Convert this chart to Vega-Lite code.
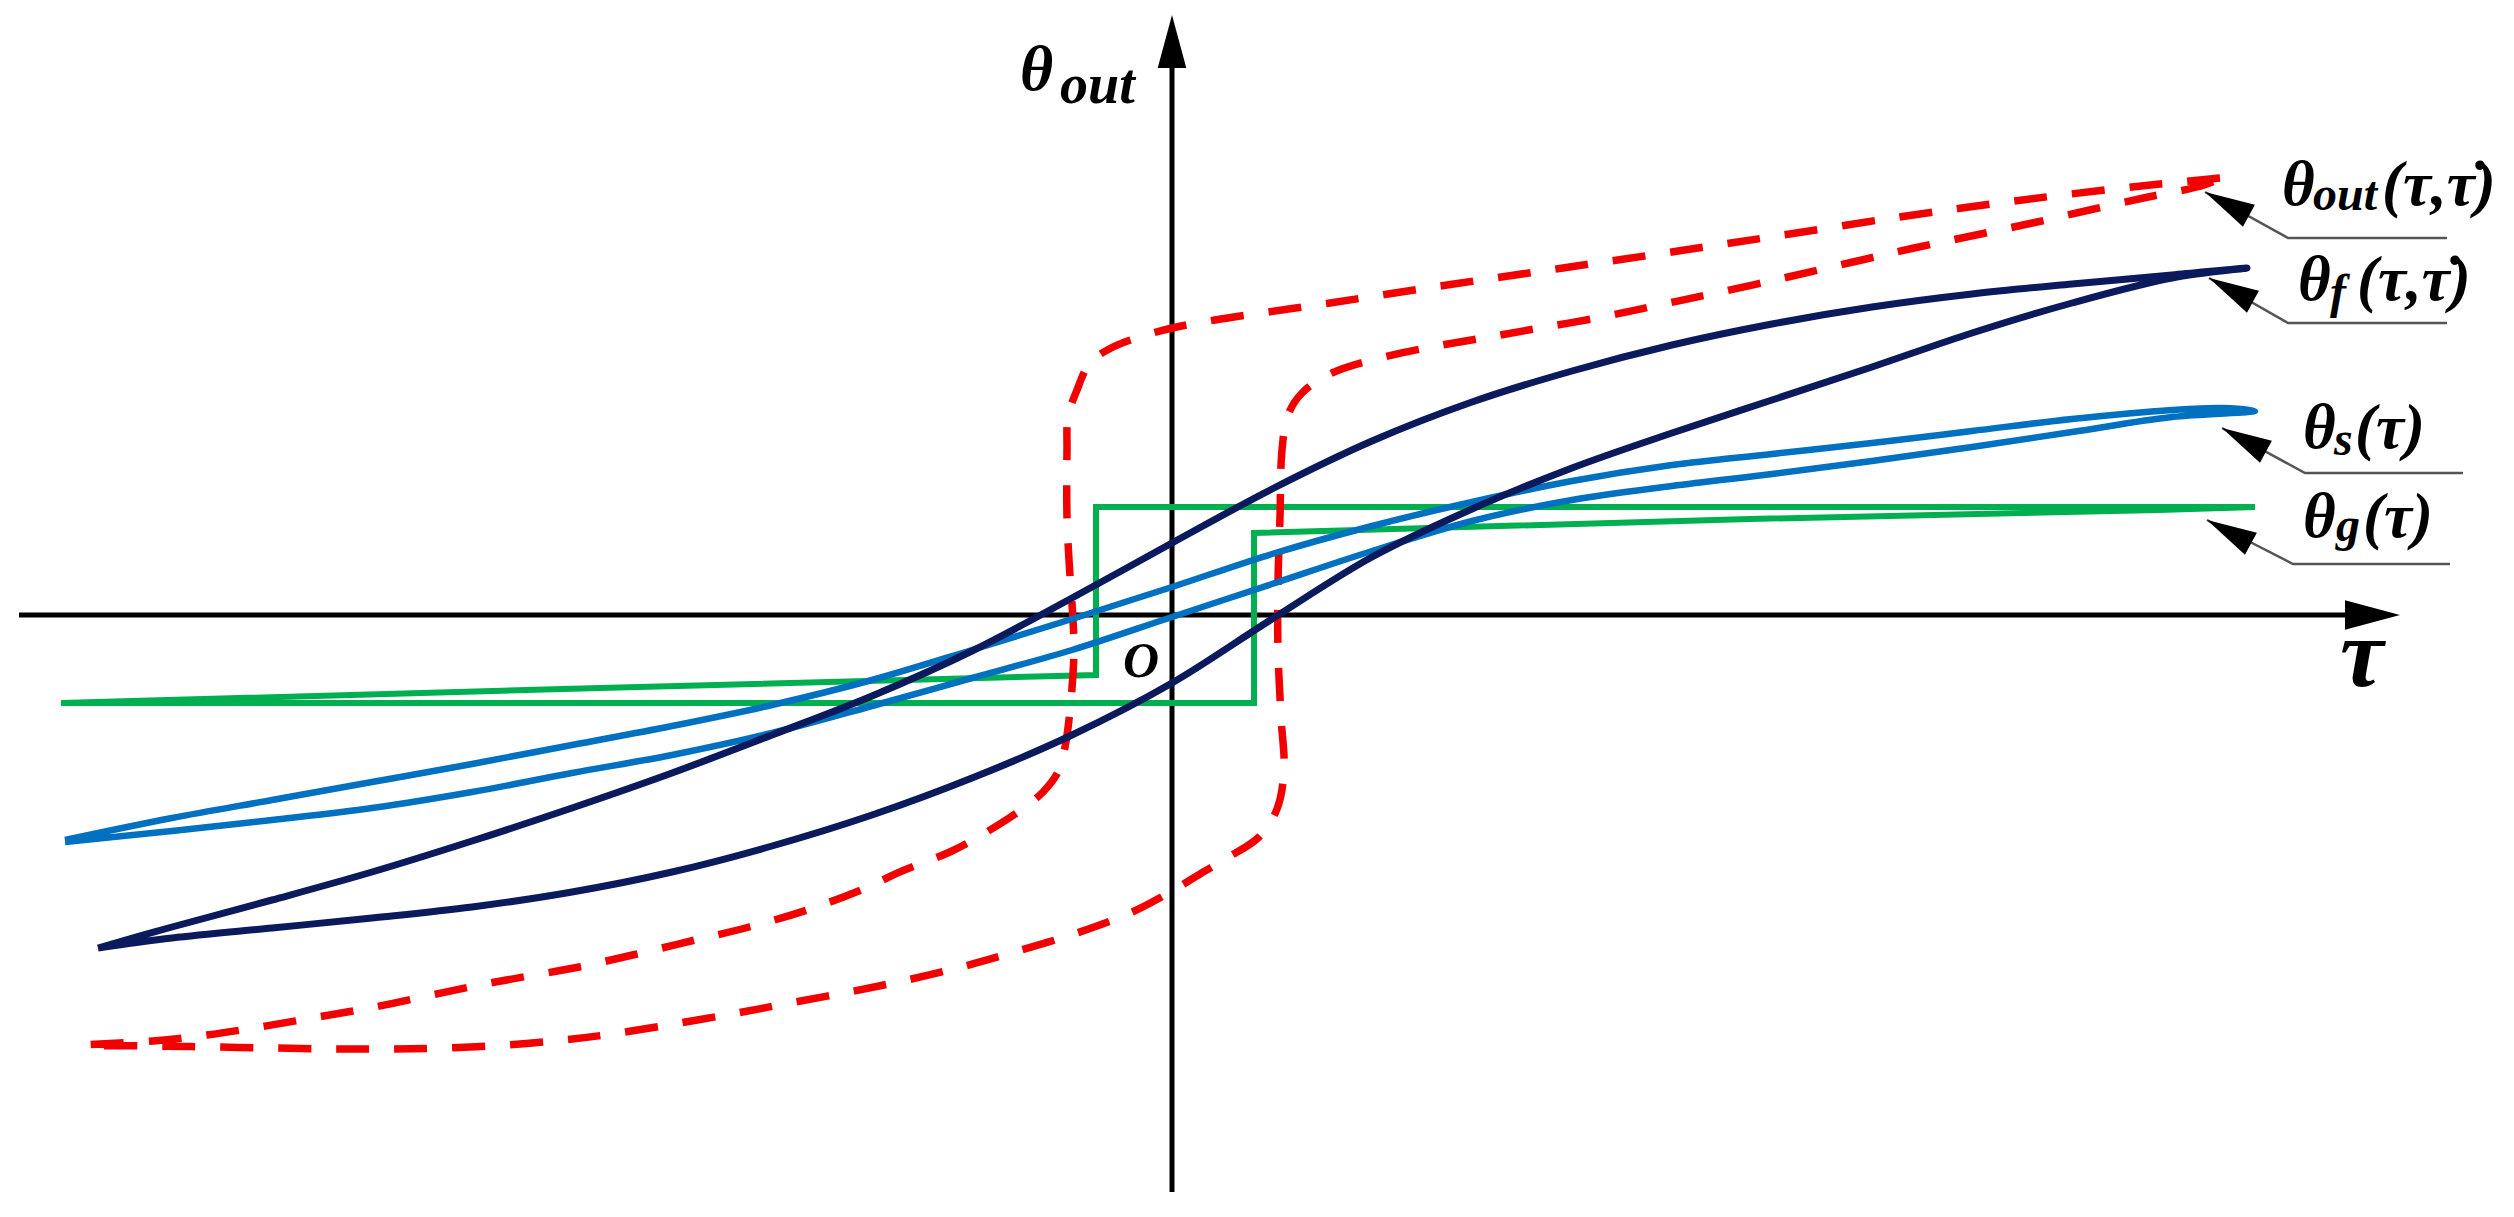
{
  "$schema": "https://vega.github.io/schema/vega-lite/v6.json",
  "width": 2514,
  "height": 1217,
  "autosize": {"type": "fit", "contains": "padding"},
  "padding": 0,
  "background": "white",
  "config": {"view": {"stroke": null}},
  "datasets": {
    "axes": [
      {"axis": "tau", "order": 1, "tau": -1153, "theta": 0},
      {"axis": "tau", "order": 2, "tau": 1180, "theta": 0},
      {"axis": "theta", "order": 1, "tau": 0, "theta": -577},
      {"axis": "theta", "order": 2, "tau": 0, "theta": 552}
    ],
    "axisTips": [
      {"axis": "tau", "tau": 1228, "theta": 0},
      {"axis": "theta", "tau": 0, "theta": 600}
    ],
    "curves": [
      {"series": "theta_g", "order": 1, "tau": -1111, "theta": -88},
      {"series": "theta_g", "order": 2, "tau": -572, "theta": -73},
      {"series": "theta_g", "order": 3, "tau": -76, "theta": -60},
      {"series": "theta_g", "order": 4, "tau": -76, "theta": 108},
      {"series": "theta_g", "order": 5, "tau": 1083, "theta": 108},
      {"series": "theta_g", "order": 6, "tau": 987, "theta": 105},
      {"series": "theta_g", "order": 7, "tau": 578, "theta": 96},
      {"series": "theta_g", "order": 8, "tau": 82, "theta": 82},
      {"series": "theta_g", "order": 9, "tau": 82, "theta": -88},
      {"series": "theta_g", "order": 10, "tau": -1111, "theta": -88},

      {"series": "theta_out", "order": 1, "tau": 1048, "theta": 437},
      {"series": "theta_out", "order": 2, "tau": 960, "theta": 428},
      {"series": "theta_out", "order": 3, "tau": 842, "theta": 414},
      {"series": "theta_out", "order": 4, "tau": 727, "theta": 398},
      {"series": "theta_out", "order": 5, "tau": 605, "theta": 379},
      {"series": "theta_out", "order": 6, "tau": 506, "theta": 364},
      {"series": "theta_out", "order": 7, "tau": 391, "theta": 347},
      {"series": "theta_out", "order": 8, "tau": 275, "theta": 330},
      {"series": "theta_out", "order": 9, "tau": 158, "theta": 312},
      {"series": "theta_out", "order": 10, "tau": 43, "theta": 295},
      {"series": "theta_out", "order": 11, "tau": 0, "theta": 287},
      {"series": "theta_out", "order": 12, "tau": -29, "theta": 279},
      {"series": "theta_out", "order": 13, "tau": -59, "theta": 268},
      {"series": "theta_out", "order": 14, "tau": -82, "theta": 252},
      {"series": "theta_out", "order": 15, "tau": -95, "theta": 225},
      {"series": "theta_out", "order": 16, "tau": -104, "theta": 198},
      {"series": "theta_out", "order": 17, "tau": -105, "theta": 165},
      {"series": "theta_out", "order": 18, "tau": -105, "theta": 98},
      {"series": "theta_out", "order": 19, "tau": -103, "theta": 55},
      {"series": "theta_out", "order": 20, "tau": -99, "theta": -5},
      {"series": "theta_out", "order": 21, "tau": -98, "theta": -35},
      {"series": "theta_out", "order": 22, "tau": -101, "theta": -85},
      {"series": "theta_out", "order": 23, "tau": -107, "theta": -132},
      {"series": "theta_out", "order": 24, "tau": -114, "theta": -157},
      {"series": "theta_out", "order": 25, "tau": -129, "theta": -177},
      {"series": "theta_out", "order": 26, "tau": -154, "theta": -197},
      {"series": "theta_out", "order": 27, "tau": -187, "theta": -218},
      {"series": "theta_out", "order": 28, "tau": -220, "theta": -236},
      {"series": "theta_out", "order": 29, "tau": -270, "theta": -256},
      {"series": "theta_out", "order": 30, "tau": -311, "theta": -275},
      {"series": "theta_out", "order": 31, "tau": -365, "theta": -295},
      {"series": "theta_out", "order": 32, "tau": -423, "theta": -312},
      {"series": "theta_out", "order": 33, "tau": -477, "theta": -325},
      {"series": "theta_out", "order": 34, "tau": -531, "theta": -338},
      {"series": "theta_out", "order": 35, "tau": -593, "theta": -352},
      {"series": "theta_out", "order": 36, "tau": -682, "theta": -368},
      {"series": "theta_out", "order": 37, "tau": -740, "theta": -380},
      {"series": "theta_out", "order": 38, "tau": -797, "theta": -392},
      {"series": "theta_out", "order": 39, "tau": -854, "theta": -402},
      {"series": "theta_out", "order": 40, "tau": -912, "theta": -412},
      {"series": "theta_out", "order": 41, "tau": -965, "theta": -420},
      {"series": "theta_out", "order": 42, "tau": -1019, "theta": -426},
      {"series": "theta_out", "order": 43, "tau": -1087, "theta": -430},
      {"series": "theta_out", "order": 44, "tau": -1019, "theta": -431},
      {"series": "theta_out", "order": 45, "tau": -958, "theta": -432},
      {"series": "theta_out", "order": 46, "tau": -896, "theta": -433},
      {"series": "theta_out", "order": 47, "tau": -839, "theta": -434},
      {"series": "theta_out", "order": 48, "tau": -785, "theta": -434},
      {"series": "theta_out", "order": 49, "tau": -728, "theta": -433},
      {"series": "theta_out", "order": 50, "tau": -667, "theta": -430},
      {"series": "theta_out", "order": 51, "tau": -609, "theta": -425},
      {"series": "theta_out", "order": 52, "tau": -560, "theta": -419},
      {"series": "theta_out", "order": 53, "tau": -498, "theta": -409},
      {"series": "theta_out", "order": 54, "tau": -435, "theta": -398},
      {"series": "theta_out", "order": 55, "tau": -382, "theta": -388},
      {"series": "theta_out", "order": 56, "tau": -323, "theta": -377},
      {"series": "theta_out", "order": 57, "tau": -265, "theta": -365},
      {"series": "theta_out", "order": 58, "tau": -207, "theta": -351},
      {"series": "theta_out", "order": 59, "tau": -154, "theta": -336},
      {"series": "theta_out", "order": 60, "tau": -95, "theta": -318},
      {"series": "theta_out", "order": 61, "tau": -42, "theta": -298},
      {"series": "theta_out", "order": 62, "tau": 0, "theta": -276},
      {"series": "theta_out", "order": 63, "tau": 28, "theta": -259},
      {"series": "theta_out", "order": 64, "tau": 55, "theta": -243},
      {"series": "theta_out", "order": 65, "tau": 87, "theta": -222},
      {"series": "theta_out", "order": 66, "tau": 105, "theta": -194},
      {"series": "theta_out", "order": 67, "tau": 112, "theta": -155},
      {"series": "theta_out", "order": 68, "tau": 109, "theta": -102},
      {"series": "theta_out", "order": 69, "tau": 106, "theta": -35},
      {"series": "theta_out", "order": 70, "tau": 106, "theta": 32},
      {"series": "theta_out", "order": 71, "tau": 108, "theta": 98},
      {"series": "theta_out", "order": 72, "tau": 110, "theta": 165},
      {"series": "theta_out", "order": 73, "tau": 116, "theta": 200},
      {"series": "theta_out", "order": 74, "tau": 130, "theta": 222},
      {"series": "theta_out", "order": 75, "tau": 158, "theta": 241},
      {"series": "theta_out", "order": 76, "tau": 196, "theta": 254},
      {"series": "theta_out", "order": 77, "tau": 254, "theta": 267},
      {"series": "theta_out", "order": 78, "tau": 311, "theta": 277},
      {"series": "theta_out", "order": 79, "tau": 368, "theta": 287},
      {"series": "theta_out", "order": 80, "tau": 430, "theta": 298},
      {"series": "theta_out", "order": 81, "tau": 487, "theta": 310},
      {"series": "theta_out", "order": 82, "tau": 544, "theta": 322},
      {"series": "theta_out", "order": 83, "tau": 616, "theta": 338},
      {"series": "theta_out", "order": 84, "tau": 681, "theta": 353},
      {"series": "theta_out", "order": 85, "tau": 742, "theta": 367},
      {"series": "theta_out", "order": 86, "tau": 804, "theta": 380},
      {"series": "theta_out", "order": 87, "tau": 865, "theta": 393},
      {"series": "theta_out", "order": 88, "tau": 922, "theta": 406},
      {"series": "theta_out", "order": 89, "tau": 976, "theta": 418},
      {"series": "theta_out", "order": 90, "tau": 1025, "theta": 428},
      {"series": "theta_out", "order": 91, "tau": 1048, "theta": 436},

      {"series": "theta_s", "order": 1, "tau": -1107, "theta": -225},
      {"series": "theta_s", "order": 2, "tau": -1000, "theta": -203},
      {"series": "theta_s", "order": 3, "tau": -900, "theta": -185},
      {"series": "theta_s", "order": 4, "tau": -800, "theta": -167},
      {"series": "theta_s", "order": 5, "tau": -700, "theta": -149},
      {"series": "theta_s", "order": 6, "tau": -600, "theta": -130},
      {"series": "theta_s", "order": 7, "tau": -500, "theta": -111},
      {"series": "theta_s", "order": 8, "tau": -400, "theta": -90},
      {"series": "theta_s", "order": 9, "tau": -300, "theta": -65},
      {"series": "theta_s", "order": 10, "tau": -200, "theta": -35},
      {"series": "theta_s", "order": 11, "tau": -100, "theta": -4},
      {"series": "theta_s", "order": 12, "tau": 0, "theta": 28},
      {"series": "theta_s", "order": 13, "tau": 100, "theta": 61},
      {"series": "theta_s", "order": 14, "tau": 200, "theta": 89},
      {"series": "theta_s", "order": 15, "tau": 300, "theta": 113},
      {"series": "theta_s", "order": 16, "tau": 400, "theta": 134},
      {"series": "theta_s", "order": 17, "tau": 500, "theta": 150},
      {"series": "theta_s", "order": 18, "tau": 600, "theta": 161},
      {"series": "theta_s", "order": 19, "tau": 700, "theta": 172},
      {"series": "theta_s", "order": 20, "tau": 800, "theta": 184},
      {"series": "theta_s", "order": 21, "tau": 900, "theta": 196},
      {"series": "theta_s", "order": 22, "tau": 1000, "theta": 205},
      {"series": "theta_s", "order": 23, "tau": 1050, "theta": 207},
      {"series": "theta_s", "order": 24, "tau": 1083, "theta": 204},
      {"series": "theta_s", "order": 25, "tau": 1000, "theta": 198},
      {"series": "theta_s", "order": 26, "tau": 900, "theta": 183},
      {"series": "theta_s", "order": 27, "tau": 800, "theta": 168},
      {"series": "theta_s", "order": 28, "tau": 700, "theta": 154},
      {"series": "theta_s", "order": 29, "tau": 600, "theta": 141},
      {"series": "theta_s", "order": 30, "tau": 500, "theta": 129},
      {"series": "theta_s", "order": 31, "tau": 400, "theta": 115},
      {"series": "theta_s", "order": 32, "tau": 300, "theta": 94},
      {"series": "theta_s", "order": 33, "tau": 200, "theta": 64},
      {"series": "theta_s", "order": 34, "tau": 100, "theta": 31},
      {"series": "theta_s", "order": 35, "tau": 0, "theta": -2},
      {"series": "theta_s", "order": 36, "tau": -100, "theta": -35},
      {"series": "theta_s", "order": 37, "tau": -200, "theta": -63},
      {"series": "theta_s", "order": 38, "tau": -300, "theta": -91},
      {"series": "theta_s", "order": 39, "tau": -400, "theta": -118},
      {"series": "theta_s", "order": 40, "tau": -500, "theta": -140},
      {"series": "theta_s", "order": 41, "tau": -600, "theta": -158},
      {"series": "theta_s", "order": 42, "tau": -700, "theta": -177},
      {"series": "theta_s", "order": 43, "tau": -800, "theta": -193},
      {"series": "theta_s", "order": 44, "tau": -900, "theta": -205},
      {"series": "theta_s", "order": 45, "tau": -1000, "theta": -216},
      {"series": "theta_s", "order": 46, "tau": -1107, "theta": -227},

      {"series": "theta_f", "order": 1, "tau": -1074, "theta": -333},
      {"series": "theta_f", "order": 2, "tau": -1000, "theta": -312},
      {"series": "theta_f", "order": 3, "tau": -900, "theta": -285},
      {"series": "theta_f", "order": 4, "tau": -800, "theta": -257},
      {"series": "theta_f", "order": 5, "tau": -700, "theta": -226},
      {"series": "theta_f", "order": 6, "tau": -600, "theta": -193},
      {"series": "theta_f", "order": 7, "tau": -500, "theta": -158},
      {"series": "theta_f", "order": 8, "tau": -400, "theta": -120},
      {"series": "theta_f", "order": 9, "tau": -300, "theta": -81},
      {"series": "theta_f", "order": 10, "tau": -200, "theta": -36},
      {"series": "theta_f", "order": 11, "tau": -100, "theta": 17},
      {"series": "theta_f", "order": 12, "tau": 0, "theta": 72},
      {"series": "theta_f", "order": 13, "tau": 100, "theta": 126},
      {"series": "theta_f", "order": 14, "tau": 200, "theta": 174},
      {"series": "theta_f", "order": 15, "tau": 300, "theta": 213},
      {"series": "theta_f", "order": 16, "tau": 400, "theta": 244},
      {"series": "theta_f", "order": 17, "tau": 500, "theta": 270},
      {"series": "theta_f", "order": 18, "tau": 600, "theta": 291},
      {"series": "theta_f", "order": 19, "tau": 700, "theta": 308},
      {"series": "theta_f", "order": 20, "tau": 800, "theta": 321},
      {"series": "theta_f", "order": 21, "tau": 900, "theta": 331},
      {"series": "theta_f", "order": 22, "tau": 1000, "theta": 340},
      {"series": "theta_f", "order": 23, "tau": 1075, "theta": 347},
      {"series": "theta_f", "order": 24, "tau": 1000, "theta": 337},
      {"series": "theta_f", "order": 25, "tau": 900, "theta": 312},
      {"series": "theta_f", "order": 26, "tau": 800, "theta": 282},
      {"series": "theta_f", "order": 27, "tau": 700, "theta": 248},
      {"series": "theta_f", "order": 28, "tau": 600, "theta": 215},
      {"series": "theta_f", "order": 29, "tau": 500, "theta": 182},
      {"series": "theta_f", "order": 30, "tau": 400, "theta": 147},
      {"series": "theta_f", "order": 31, "tau": 300, "theta": 106},
      {"series": "theta_f", "order": 32, "tau": 200, "theta": 58},
      {"series": "theta_f", "order": 33, "tau": 100, "theta": -4},
      {"series": "theta_f", "order": 34, "tau": 0, "theta": -68},
      {"series": "theta_f", "order": 35, "tau": -100, "theta": -120},
      {"series": "theta_f", "order": 36, "tau": -200, "theta": -163},
      {"series": "theta_f", "order": 37, "tau": -300, "theta": -200},
      {"series": "theta_f", "order": 38, "tau": -400, "theta": -231},
      {"series": "theta_f", "order": 39, "tau": -500, "theta": -257},
      {"series": "theta_f", "order": 40, "tau": -600, "theta": -277},
      {"series": "theta_f", "order": 41, "tau": -700, "theta": -292},
      {"series": "theta_f", "order": 42, "tau": -800, "theta": -303},
      {"series": "theta_f", "order": 43, "tau": -900, "theta": -313},
      {"series": "theta_f", "order": 44, "tau": -1000, "theta": -323},
      {"series": "theta_f", "order": 45, "tau": -1074, "theta": -333}
    ],
    "leaders": [
      {"label": "out", "order": 1, "tau": 1033, "theta": 423},
      {"label": "out", "order": 2, "tau": 1116, "theta": 377},
      {"label": "out", "order": 3, "tau": 1275, "theta": 377},
      {"label": "f", "order": 1, "tau": 1037, "theta": 337},
      {"label": "f", "order": 2, "tau": 1116, "theta": 292},
      {"label": "f", "order": 3, "tau": 1275, "theta": 292},
      {"label": "s", "order": 1, "tau": 1050, "theta": 187},
      {"label": "s", "order": 2, "tau": 1133, "theta": 142},
      {"label": "s", "order": 3, "tau": 1291, "theta": 142},
      {"label": "g", "order": 1, "tau": 1035, "theta": 95},
      {"label": "g", "order": 2, "tau": 1121, "theta": 51},
      {"label": "g", "order": 3, "tau": 1278, "theta": 51}
    ],
    "leaderTips": [
      {"label": "out", "tau": 1033, "theta": 423},
      {"label": "f", "tau": 1037, "theta": 337},
      {"label": "s", "tau": 1050, "theta": 187},
      {"label": "g", "tau": 1035, "theta": 95}
    ],
    "texts": [
      {"kind": "axisMain", "tau": -152, "theta": 525, "text": "θ"},
      {"kind": "axisSub", "tau": -112, "theta": 512, "text": "out"},
      {"kind": "tauAxis", "tau": 1168, "theta": -71, "text": "τ"},
      {"kind": "origin", "tau": -49, "theta": -62, "text": "O"},
      {"kind": "main", "tau": 1110, "theta": 410, "text": "θ"},
      {"kind": "sub", "tau": 1141, "theta": 405, "text": "out"},
      {"kind": "main", "tau": 1210, "theta": 410, "text": "(τ,τ̇)"},
      {"kind": "main", "tau": 1126, "theta": 315, "text": "θ"},
      {"kind": "sub", "tau": 1158, "theta": 307, "text": "f"},
      {"kind": "main", "tau": 1185, "theta": 315, "text": "(τ,τ̇)"},
      {"kind": "main", "tau": 1131, "theta": 167, "text": "θ"},
      {"kind": "sub", "tau": 1162, "theta": 160, "text": "s"},
      {"kind": "main", "tau": 1183, "theta": 167, "text": "(τ)"},
      {"kind": "main", "tau": 1131, "theta": 78, "text": "θ"},
      {"kind": "sub", "tau": 1164, "theta": 74, "text": "g"},
      {"kind": "main", "tau": 1191, "theta": 78, "text": "(τ)"}
    ]
  },
  "encoding": {
    "x": {"field": "tau", "type": "quantitative", "scale": {"domain": [-1172, 1342], "nice": false, "zero": false}, "axis": null},
    "y": {"field": "theta", "type": "quantitative", "scale": {"domain": [-602, 615], "nice": false, "zero": false}, "axis": null}
  },
  "layer": [
    {
      "data": {"name": "axes"},
      "mark": {"type": "line", "color": "#000000", "strokeWidth": 5, "strokeCap": "butt"},
      "encoding": {"detail": {"field": "axis"}, "order": {"field": "order", "type": "quantitative"}}
    },
    {
      "data": {"name": "axisTips"},
      "transform": [{"filter": "datum.axis === 'tau'"}],
      "mark": {"type": "point", "shape": "M0,0L-1,-0.27L-1,0.27Z", "size": 12100, "filled": true, "color": "#000000", "opacity": 1, "strokeWidth": 0, "angle": 0}
    },
    {
      "data": {"name": "axisTips"},
      "transform": [{"filter": "datum.axis === 'theta'"}],
      "mark": {"type": "point", "shape": "M0,0L-1,-0.27L-1,0.27Z", "size": 11236, "filled": true, "color": "#000000", "opacity": 1, "strokeWidth": 0, "angle": 270}
    },
    {
      "data": {"name": "curves"},
      "transform": [{"filter": "datum.series === 'theta_g'"}],
      "mark": {"type": "line", "color": "#00b050", "strokeWidth": 6, "strokeJoin": "miter"},
      "encoding": {"order": {"field": "order", "type": "quantitative"}}
    },
    {
      "data": {"name": "curves"},
      "transform": [{"filter": "datum.series === 'theta_out'"}],
      "mark": {"type": "line", "color": "#f20000", "strokeWidth": 7.5, "strokeDash": [33, 25], "strokeCap": "butt", "interpolate": "catmull-rom"},
      "encoding": {"order": {"field": "order", "type": "quantitative"}}
    },
    {
      "data": {"name": "curves"},
      "transform": [{"filter": "datum.series === 'theta_s'"}],
      "mark": {"type": "line", "color": "#0070c0", "strokeWidth": 6.5, "interpolate": "catmull-rom"},
      "encoding": {"order": {"field": "order", "type": "quantitative"}}
    },
    {
      "data": {"name": "curves"},
      "transform": [{"filter": "datum.series === 'theta_f'"}],
      "mark": {"type": "line", "color": "#0a1a5c", "strokeWidth": 7, "interpolate": "catmull-rom"},
      "encoding": {"order": {"field": "order", "type": "quantitative"}}
    },
    {
      "data": {"name": "leaders"},
      "mark": {"type": "line", "color": "#555555", "strokeWidth": 2.5},
      "encoding": {"detail": {"field": "label"}, "order": {"field": "order", "type": "quantitative"}}
    },
    {
      "data": {"name": "leaderTips"},
      "mark": {"type": "point", "shape": "M0,0L-1,-0.25L-1,0.25Z", "size": 10000, "filled": true, "color": "#000000", "opacity": 1, "strokeWidth": 0, "angle": 208.5}
    },
    {
      "data": {"name": "texts"},
      "transform": [{"filter": "datum.kind === 'main'"}],
      "mark": {"type": "text", "align": "left", "baseline": "alphabetic", "font": "Liberation Serif", "fontSize": 63, "fontStyle": "italic", "fontWeight": "bold", "color": "#000000"},
      "encoding": {"text": {"field": "text"}}
    },
    {
      "data": {"name": "texts"},
      "transform": [{"filter": "datum.kind === 'sub'"}],
      "mark": {"type": "text", "align": "left", "baseline": "alphabetic", "font": "Liberation Serif", "fontSize": 48, "fontStyle": "italic", "fontWeight": "bold", "color": "#000000"},
      "encoding": {"text": {"field": "text"}}
    },
    {
      "data": {"name": "texts"},
      "transform": [{"filter": "datum.kind === 'axisMain'"}],
      "mark": {"type": "text", "align": "left", "baseline": "alphabetic", "font": "Liberation Serif", "fontSize": 64, "fontStyle": "italic", "fontWeight": "bold", "color": "#000000"},
      "encoding": {"text": {"field": "text"}}
    },
    {
      "data": {"name": "texts"},
      "transform": [{"filter": "datum.kind === 'axisSub'"}],
      "mark": {"type": "text", "align": "left", "baseline": "alphabetic", "font": "Liberation Serif", "fontSize": 56, "fontStyle": "italic", "fontWeight": "bold", "color": "#000000"},
      "encoding": {"text": {"field": "text"}}
    },
    {
      "data": {"name": "texts"},
      "transform": [{"filter": "datum.kind === 'tauAxis'"}],
      "mark": {"type": "text", "align": "left", "baseline": "alphabetic", "font": "Liberation Serif", "fontSize": 98, "fontStyle": "italic", "fontWeight": "bold", "color": "#000000"},
      "encoding": {"text": {"field": "text"}}
    },
    {
      "data": {"name": "texts"},
      "transform": [{"filter": "datum.kind === 'origin'"}],
      "mark": {"type": "text", "align": "left", "baseline": "alphabetic", "font": "Liberation Serif", "fontSize": 50, "fontStyle": "italic", "fontWeight": "bold", "color": "#000000"},
      "encoding": {"text": {"field": "text"}}
    }
  ]
}
